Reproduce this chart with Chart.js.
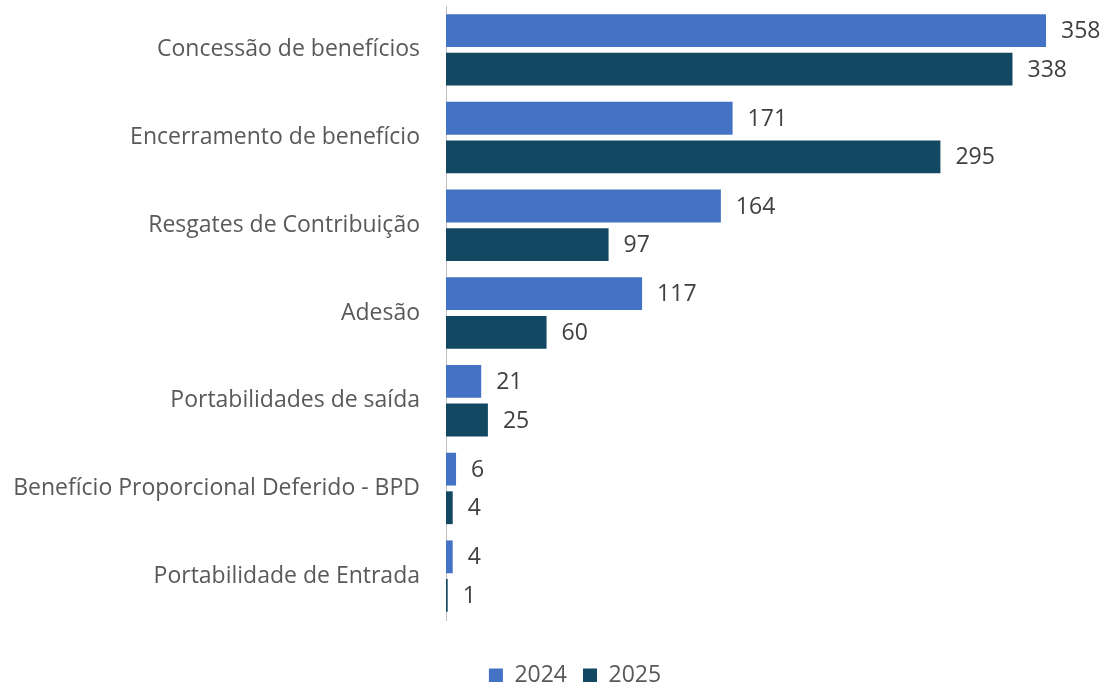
<!DOCTYPE html>
<html>
<head>
<meta charset="utf-8">
<script src="https://cdn.jsdelivr.net/npm/chart.js@4"></script>
<style>
    html, body { margin: 0; padding: 0; background: #fff; }
    #wrap { width: 1107px; height: 682px; }
</style>
</head>
<body>
<div id="wrap"><canvas id="chart" width="1107" height="682"></canvas></div>
<script>
"use strict";

const categories = [
    "Concessão de benefícios",
    "Encerramento de benefício",
    "Resgates de Contribuição",
    "Adesão",
    "Portabilidades de saída",
    "Benefício Proporcional Deferido - BPD",
    "Portabilidade de Entrada"
];
const seriesNames = ["2024", "2025"];
const values2024 = [358, 171, 164, 117, 21, 6, 4];
const values2025 = [338, 295, 97, 60, 25, 4, 1];

const FONT = "'Open Sans', sans-serif";

// draws the value at the end of each bar
const valueLabels = {
    id: "valueLabels",
    afterDatasetsDraw(chart) {
        const ctx = chart.ctx;
        ctx.save();
        ctx.font = "23px " + FONT;
        ctx.fillStyle = "#404040";
        ctx.textBaseline = "middle";
        ctx.textAlign = "left";
        chart.data.datasets.forEach((ds, i) => {
            chart.getDatasetMeta(i).data.forEach((bar, j) => {
                ctx.fillText(String(ds.data[j]), bar.x + 15, bar.y + 1);
            });
        });
        ctx.restore();
    }
};

// move the legend down and a bit right, like the original
const legendShift = {
    id: "legendShift",
    afterLayout(chart) {
        chart.legend.top += 28;
        chart.legend.bottom += 28;
        chart.legend.left += 52;
        chart.legend.right += 52;
    }
};

new Chart(document.getElementById("chart"), {
    type: "bar",
    data: {
        labels: categories,
        datasets: [{
            label: seriesNames[0],
            data: values2024,
            backgroundColor: "#4472C4",
            barPercentage: 0.85,
            categoryPercentage: 0.88
        }, {
            label: seriesNames[1],
            data: values2025,
            backgroundColor: "#124862",
            barPercentage: 0.85,
            categoryPercentage: 0.88
        }]
    },
    options: {
        indexAxis: "y",
        responsive: false,
        animation: false,
        layout: { padding: { top: 6, right: 61, left: 0, bottom: 13 } },
        scales: {
            x: {
                min: 0,
                max: 358,
                display: false
            },
            y: {
                afterFit: (scale) => {
                    scale.width = 446;
                    scale.paddingTop = 0;
                    scale.paddingBottom = 0;
                },
                grid: { display: false, drawTicks: false },
                border: { display: true, color: "#bfbfbf", width: 1 },
                ticks: {
                    padding: 26,
                    color: "#595959",
                    font: { family: FONT, size: 23 }
                }
            }
        },
        plugins: {
            legend: {
                position: "bottom",
                labels: {
                    boxWidth: 14,
                    boxHeight: 14,
                    padding: 16,
                    color: "#595959",
                    font: { family: FONT, size: 23 }
                }
            },
            tooltip: { enabled: false }
        }
    },
    plugins: [valueLabels, legendShift]
});
</script>
</body>
</html>
